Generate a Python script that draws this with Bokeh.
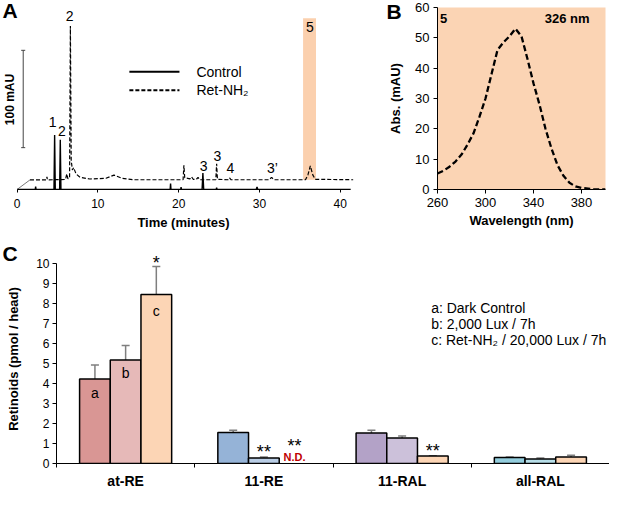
import math
from bokeh.plotting import figure
from bokeh.layouts import column, row
from bokeh.models import (Range1d, FixedTicker, Whisker, TeeHead, ColumnDataSource, GridBox)
from bokeh.core.properties import value
from bokeh.embed import file_html
from bokeh.resources import INLINE

FONT = "Liberation Sans"

# ---------------- Panel A: HPLC chromatograms ----------------
time_ticks = [0, 10, 20, 30, 40]
ctrl_t = [0.0, 2.25, 2.3, 2.35, 4.57, 4.65, 4.73, 5.27, 5.35, 5.43, 18.95, 19.0, 19.05,
          20.25, 20.3, 20.35, 22.9, 23.0, 23.1, 24.65, 24.7, 24.75, 29.6, 29.7, 29.8, 41.3]
ctrl_mau = [0, 0, 3, 0, 0, 56, 0, 0, 51, 0, 0, 6, 0,
            0, 2.5, 0, 0, 17, 0, 0, 2, 0, 0, 2.5, 0, 0]
ret_t = [1.6, 3.65, 3.7, 3.75, 6.0, 6.15, 6.3, 6.5, 6.6, 6.7, 6.85, 7.0, 7.3, 7.8,
         9.0, 11.0, 12.0, 13.0, 14.5, 20.55, 20.65, 20.75, 21.4, 21.6, 21.8, 22.2, 22.4, 22.6,
         24.6, 24.7, 24.8, 26.1, 26.3, 26.5, 31.2, 31.5, 31.8, 35.7, 36.0, 36.3, 36.6, 36.9, 41.6]
ret_mau = [9.9, 9.9, 13, 9.9, 10.3, 16, 11, 12, 168, 30, 20, 22.5, 16, 12.5,
           10.8, 11.5, 14.8, 11.5, 10, 10, 25, 12, 11, 13, 10.5, 10.5, 12.5, 10,
           10, 26.4, 10.5, 10, 12, 10, 10, 12.5, 10, 10, 15, 24.2, 15, 10.5, 10]
peak_names = ["1", "2", "2", "3", "3", "4", "3\u2019", "5"]
peak_t = [4.4, 5.55, 6.5, 23.1, 24.8, 26.4, 31.6, 36.25]
peak_mau = [69, 60, 178, 24.5, 34, 22.6, 22.6, 167]
highlight_t = [35.4, 37.0]
highlight_mau = [9.9, 176]
scalebar_mau = [43, 143]
series_names = ["Control", "Ret-NH\u2082"]

# ---------------- Panel B: UV spectrum of peak 5 ----------------
wavelength = [260, 265, 270, 275, 280, 285, 290, 295, 300, 305, 310, 315, 320, 325,
              330, 335, 340, 345, 350, 355, 360, 365, 370, 375, 380, 390, 400]
absorbance = [5.3, 6.2, 7.5, 9.2, 11.5, 14.8, 18.5, 24, 30, 38, 46, 48.5, 50.5, 53,
              50.5, 43, 35, 28, 20, 13.5, 8, 4.5, 2.2, 1.0, 0.5, 0.1, 0]
wl_ticks = [260, 300, 340, 380]
abs_ticks = [0, 10, 20, 30, 40, 50, 60]

# ---------------- Panel C: retinoid levels ----------------
categories = ["at-RE", "11-RE", "11-RAL", "all-RAL"]
dark_ctrl = [4.23, 1.55, 1.53, 0.30]
dark_err = [0.70, 0.11, 0.13, 0.02]
lux_2000 = [5.18, 0.28, 1.28, 0.22]
lux_err = [0.72, 0.04, 0.10, 0.06]
ret_nh2 = [8.45, None, 0.37, 0.33]   # None = N.D.
ret_err = [1.40, None, 0.02, 0.08]
dark_colors = ["#D99694", "#95B3D7", "#B3A2C7", "#93CDDD"]
lux_colors = ["#E6B9B8", "#B9CDE5", "#CCC1DA", "#B7DEE8"]
ret_color = "#FCD5B5"
c_ticks = list(range(0, 11))
legend_lines = ["a: Dark Control", "b: 2,000 Lux / 7h", "c: Ret-NH\u2082 / 20,000 Lux / 7h"]
panel_letters = ["A", "B", "C"]


def style_axis(ax, font_px, tick_out, standoff, label_px=13, label_standoff=0):
    ax.axis_line_color = "black"
    ax.axis_line_width = 1
    ax.major_tick_line_color = "black"
    ax.major_tick_in = 0
    ax.major_tick_out = tick_out
    ax.minor_tick_line_color = None
    ax.major_label_text_font = FONT
    ax.major_label_text_font_size = f"{font_px}px"
    ax.major_label_text_color = "black"
    ax.major_label_standoff = standoff
    ax.axis_label_text_font = FONT
    ax.axis_label_text_font_style = "bold"
    ax.axis_label_text_color = "black"
    ax.axis_label_text_font_size = f"{label_px}px"
    ax.axis_label_standoff = label_standoff


# ======================= Panel A =======================
pA = figure(width=385, height=238, x_range=Range1d(-2.05, 43.25), y_range=Range1d(0, 187),
            output_backend="svg", toolbar_location=None, y_axis_location=None,
            min_border_left=0, min_border_right=19, min_border_top=0, min_border_bottom=46)
pA.grid.visible = False
pA.outline_line_color = None
pA.xaxis.ticker = FixedTicker(ticks=time_ticks)
pA.xaxis.bounds = (time_ticks[0], ctrl_t[-1])
pA.xaxis.axis_label = "Time (minutes)"
style_axis(pA.xaxis[0], 12, 3, 6, 13, 4)

pA.quad(left=highlight_t[0], right=highlight_t[1], bottom=highlight_mau[0], top=highlight_mau[1],
        fill_color="#FBD0AE", line_color=None)
pA.line([ctrl_t[0], ret_t[0]], [ctrl_mau[0], ret_mau[0]], line_color="#555555", line_width=0.8)
pA.line(ret_t, ret_mau, line_color="black", line_width=1.2, line_dash="4 2")
pA.line(ctrl_t, ctrl_mau, line_color="black", line_width=1.4)

# scale bar (100 mAU)
sb_x = 0.76
pA.segment(x0=[sb_x], y0=[scalebar_mau[0]], x1=[sb_x], y1=[scalebar_mau[1]],
           line_color="#444444", line_width=1)
pA.segment(x0=[sb_x - 0.25, sb_x - 0.25], y0=scalebar_mau, x1=[sb_x + 0.25, sb_x + 0.25],
           y1=scalebar_mau, line_color="#444444", line_width=1)
pA.text(x=[-0.85], y=[sum(scalebar_mau) / 2 - 0.5],
        text=[f"{scalebar_mau[1] - scalebar_mau[0]} mAU"], angle=math.pi / 2,
        text_font=value(FONT), text_font_style="bold", text_font_size="12px",
        text_align="center", text_baseline="middle", text_color="black")

pA.text(x=peak_t, y=peak_mau, text=peak_names, text_font=value(FONT), text_font_size="14px",
        text_align="center", text_baseline="middle", text_color="black")

# legend
pA.line([13.9, 20.1], [121, 121], line_color="black", line_width=1.8)
pA.line([13.9, 20.1], [102, 102], line_color="black", line_width=1.8, line_dash="4 2")
pA.text(x=[22.2, 22.2], y=[121, 102], text=series_names, text_font=value(FONT),
        text_font_size="14px", text_align="left", text_baseline="middle", text_color="black")

# ======================= Panel B =======================
pB = figure(width=224, height=238, x_range=Range1d(wl_ticks[0], 400), y_range=Range1d(0, 60),
            output_backend="svg", toolbar_location=None,
            min_border_left=48, min_border_right=4, min_border_top=7, min_border_bottom=49,
            background_fill_color="#FBD4B4")
pB.grid.visible = False
pB.outline_line_color = None
pB.xaxis.ticker = FixedTicker(ticks=wl_ticks)
pB.yaxis.ticker = FixedTicker(ticks=abs_ticks)
pB.xaxis.axis_label = "Wavelength (nm)"
pB.yaxis.axis_label = "Abs. (mAU)"
style_axis(pB.xaxis[0], 13, 4, 4, 13, 3)
style_axis(pB.yaxis[0], 13, 4, 4, 13, 9)
pB.line(wavelength, absorbance, line_color="black", line_width=2.3, line_dash="6 3")
pB.text(x=[265], y=[56.5], text=["5"], text_font=value(FONT), text_font_style="bold",
        text_font_size="13px", text_align="center", text_baseline="middle")
pB.text(x=[368], y=[56.5], text=["326 nm"], text_font=value(FONT), text_font_style="bold",
        text_font_size="13px", text_align="center", text_baseline="middle")

# ======================= Panel C =======================
nC = len(categories)
pC = figure(width=609, height=253, x_range=Range1d(0, nC), y_range=Range1d(0, 10.45),
            output_backend="svg", toolbar_location=None,
            min_border_left=56, min_border_right=0, min_border_top=16, min_border_bottom=24)
pC.grid.visible = False
pC.outline_line_color = None
pC.yaxis.ticker = FixedTicker(ticks=c_ticks)
pC.yaxis.bounds = (c_ticks[0], c_ticks[-1])
pC.yaxis.axis_label = "Retinoids (pmol / head)"
style_axis(pC.yaxis[0], 12, 4, 3, 13, 12)

centers = [i + 0.5 for i in range(nC)]
pC.xaxis.ticker = FixedTicker(ticks=centers, minor_ticks=list(range(nC + 1)))
pC.xaxis.major_label_overrides = {c: name for c, name in zip(centers, categories)}
style_axis(pC.xaxis[0], 14, 0, 5, 13, 0)
pC.xaxis.axis_label = None
pC.xaxis.major_tick_line_color = None
pC.xaxis.minor_tick_line_color = "black"
pC.xaxis.minor_tick_out = 4
pC.xaxis.minor_tick_in = 0
pC.xaxis.major_label_text_font_style = "bold"

bw = 0.222
xs, tops, errs, cols = [], [], [], []
for i in range(nC):
    for k, (vals, ers, colr) in enumerate([(dark_ctrl, dark_err, dark_colors[i]),
                                            (lux_2000, lux_err, lux_colors[i]),
                                            (ret_nh2, ret_err, ret_color)]):
        if vals[i] is None:
            continue
        xs.append(centers[i] + (k - 1) * bw)
        tops.append(vals[i])
        errs.append(ers[i])
        cols.append(colr)

bar_src = ColumnDataSource(dict(x=xs, top=tops, upper=[t + e for t, e in zip(tops, errs)],
                                color=cols))
pC.vbar(x="x", top="top", width=bw, bottom=0, fill_color="color", line_color="black",
        line_width=1.5, source=bar_src)
pC.add_layout(Whisker(source=bar_src, base="x", lower="top", upper="upper",
                      line_color="#7F7F7F", line_width=1.5, lower_head=None,
                      upper_head=TeeHead(size=8, line_color="#7F7F7F", line_width=1.5)))

# a / b / c letters inside at-RE bars
pC.text(x=[centers[0] - bw, centers[0], centers[0] + bw],
        y=[dark_ctrl[0] - 0.72, lux_2000[0] - 0.63, ret_nh2[0] - 0.8],
        text=["a", "b", "c"], text_font=value(FONT), text_font_size="14px",
        text_align="center", text_baseline="middle")

# significance marks
pC.text(x=[centers[0] + bw, centers[1], centers[1] + bw, centers[2] + bw],
        y=[ret_nh2[0] + ret_err[0] + 0.2, lux_2000[1] + lux_err[1] + 0.27, 0.9,
           ret_nh2[2] + 0.27],
        text=["*", "**", "**", "**"], text_font=value(FONT), text_font_size="18px",
        text_align="center", text_baseline="middle", text_color="black")
pC.text(x=[centers[1] + bw], y=[0.33], text=["N.D."], text_font=value(FONT),
        text_font_size="11px", text_font_style="bold", text_color="#C00000",
        text_align="center", text_baseline="middle")

pC.text(x=[2.71] * 3, y=[7.8, 7.0, 6.2], text=legend_lines, text_font=value(FONT),
        text_font_size="14px", text_align="left", text_baseline="middle", text_color="black")

# ======================= transparent overlay for panel letters =======================
W, H = 609, 491
ov = figure(width=W, height=H, x_range=Range1d(0, W), y_range=Range1d(H, 0),
            output_backend="svg", toolbar_location=None, x_axis_location=None,
            y_axis_location=None, min_border=0, min_border_left=0, min_border_right=0,
            min_border_top=0, min_border_bottom=0, border_fill_color=None,
            background_fill_color=None, outline_line_color=None, tools="")
ov.grid.visible = False
ov.text(x=[2, 386, 2], y=[-2, -1, 241], text=panel_letters, text_font=value(FONT),
        text_font_size="21px", text_font_style="bold", text_color="black",
        text_align="left", text_baseline="top")

main = column(row(pA, pB), pC)
layout = GridBox(children=[(main, 0, 0), (column(ov), 0, 0)])
open("out.html", "w").write(file_html(layout, INLINE))
